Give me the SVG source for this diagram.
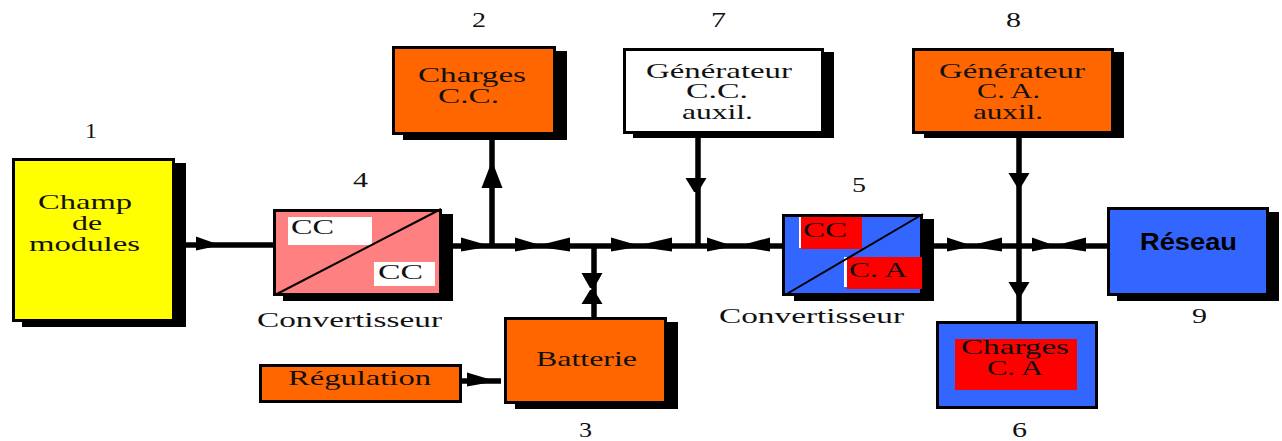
<svg xmlns="http://www.w3.org/2000/svg" width="1282" height="441" viewBox="0 0 1282 441">
<style>
text{font-family:"Liberation Serif","Times New Roman",serif;font-size:22px;fill:#111}
.n{font-size:21px}
.b{font-family:"Liberation Sans",Arial,sans-serif;font-weight:700;font-size:23px;fill:#000}
.box{stroke:#000;stroke-width:3}
.sh{fill:#000}
.or{fill:#ff6600}.bl{fill:#3366ff}.ye{fill:#ffff00}.pk{fill:#ff8080}.wh{fill:#fff}.re{fill:#ff0000}
.bus{stroke:#000;stroke-width:5.500;fill:none}
.dg{stroke:#000;stroke-width:2;fill:none}
.hd{fill:#000}
</style>
<defs>
<polygon id="ah" class="hd" points="0,-8.500 1,-1 1,1 0,5.500"/>
<polygon id="av" class="hd" points="-10.500,0 -2,1 2,1 10.500,0"/>
</defs>
<rect width="1282" height="441" fill="#fff"/>
<g id="connectors">
<path class="bus" d="M174 245H273M453 246H782M492 246V134M698 246V133M594 246V318M934 246H1107M1019 133V321M462 381H501"/>
<use href="#ah" transform="translate(196,245) scale(21,1)"/>
<use href="#ah" transform="translate(461,246) scale(26,1)"/>
<use href="#ah" transform="translate(515,246) scale(25,1)"/>
<use href="#ah" transform="translate(570,246) scale(-30,1)"/>
<use href="#ah" transform="translate(611,246) scale(26,1)"/>
<use href="#ah" transform="translate(672,246) scale(-32,1)"/>
<use href="#ah" transform="translate(707,246) scale(23,1)"/>
<use href="#ah" transform="translate(770,246) scale(-28,1)"/>
<use href="#ah" transform="translate(947,246) scale(23,1)"/>
<use href="#ah" transform="translate(1002,246) scale(-29,1)"/>
<use href="#ah" transform="translate(1032,246) scale(21,1)"/>
<use href="#ah" transform="translate(1086,246) scale(-29,1)"/>
<use href="#ah" transform="translate(467,381) scale(25,1)"/>
<use href="#av" transform="translate(492,188) scale(1,-22)"/>
<use href="#av" transform="translate(696,178) scale(1,14)"/>
<use href="#av" transform="translate(592,273) scale(1,15)"/>
<use href="#av" transform="translate(592,304) scale(1,-14)"/>
<use href="#av" transform="translate(1019,173) scale(1,14)"/>
<use href="#av" transform="translate(1019,282) scale(1,14)"/>
</g>
<g id="n1">
<rect class="sh" x="22" y="163" width="164" height="164"/>
<rect class="box ye" x="13.500" y="159.500" width="160" height="161"/>
<text x="38" y="209" textLength="94" lengthAdjust="spacingAndGlyphs">Champ</text>
<text x="72" y="230" textLength="30" lengthAdjust="spacingAndGlyphs">de</text>
<text x="29" y="251" textLength="111" lengthAdjust="spacingAndGlyphs">modules</text>
<text class="n" x="85" y="138" textLength="12" lengthAdjust="spacingAndGlyphs">1</text>
</g>
<g id="n4">
<rect class="sh" x="283" y="214" width="170" height="87"/>
<rect class="box pk" x="274.500" y="210.500" width="166" height="84"/>
<rect class="wh" x="288" y="217" width="84" height="28"/>
<rect class="wh" x="374" y="262" width="61" height="24"/>
<path class="dg" d="M275 295L441 209"/>
<text x="291" y="234" textLength="43" lengthAdjust="spacingAndGlyphs">CC</text>
<text x="378" y="279" textLength="45" lengthAdjust="spacingAndGlyphs">CC</text>
<text x="257" y="327" textLength="185" lengthAdjust="spacingAndGlyphs">Convertisseur</text>
<text class="n" x="353" y="187" textLength="15" lengthAdjust="spacingAndGlyphs">4</text>
</g>
<g id="n2">
<rect class="sh" x="403" y="51" width="164" height="89"/>
<rect class="box or" x="393.500" y="47.500" width="161" height="86"/>
<text x="418" y="82" textLength="108" lengthAdjust="spacingAndGlyphs">Charges</text>
<text x="438" y="103" textLength="61" lengthAdjust="spacingAndGlyphs">C.C.</text>
<text class="n" x="472" y="27" textLength="14" lengthAdjust="spacingAndGlyphs">2</text>
</g>
<g id="n7">
<rect class="sh" x="633" y="52" width="201" height="86"/>
<rect class="box wh" x="624.500" y="49.500" width="198" height="83"/>
<text x="646" y="78" textLength="146" lengthAdjust="spacingAndGlyphs">Générateur</text>
<text x="686" y="98" textLength="62" lengthAdjust="spacingAndGlyphs">C.C.</text>
<text x="682" y="119" textLength="71" lengthAdjust="spacingAndGlyphs">auxil.</text>
<text class="n" x="711" y="27" textLength="15" lengthAdjust="spacingAndGlyphs">7</text>
</g>
<g id="n8">
<rect class="sh" x="924" y="52" width="200" height="86"/>
<rect class="box or" x="913.500" y="49.500" width="199" height="83"/>
<text x="939" y="78" textLength="146" lengthAdjust="spacingAndGlyphs">Générateur</text>
<text x="977" y="98" textLength="63" lengthAdjust="spacingAndGlyphs">C. A.</text>
<text x="973" y="119" textLength="70" lengthAdjust="spacingAndGlyphs">auxil.</text>
<text class="n" x="1006" y="27" textLength="15" lengthAdjust="spacingAndGlyphs">8</text>
</g>
<g id="n5">
<rect class="sh" x="794" y="219" width="140" height="82"/>
<rect class="box bl" x="783.500" y="215.500" width="138" height="79"/>
<rect class="wh" x="799" y="217" width="2" height="31"/>
<rect class="re" x="801" y="217" width="61" height="32"/>
<rect class="wh" x="844" y="257" width="3" height="30"/>
<rect class="re" x="847" y="257" width="75" height="32"/>
<path class="dg" d="M785 295L923 214"/>
<text x="803" y="237" textLength="44" lengthAdjust="spacingAndGlyphs">CC</text>
<text x="849" y="277" textLength="58" lengthAdjust="spacingAndGlyphs">C. A</text>
<text x="719" y="323" textLength="185" lengthAdjust="spacingAndGlyphs">Convertisseur</text>
<text class="n" x="852" y="192" textLength="14" lengthAdjust="spacingAndGlyphs">5</text>
</g>
<g id="n9">
<rect class="sh" x="1117" y="212" width="162" height="89"/>
<rect class="box bl" x="1108.500" y="208.500" width="159" height="86"/>
<text class="b" x="1140" y="250" textLength="97" lengthAdjust="spacingAndGlyphs">Réseau</text>
<text class="n" x="1192" y="323" textLength="15" lengthAdjust="spacingAndGlyphs">9</text>
</g>
<g id="n6">
<rect class="box bl" x="937.500" y="322.500" width="159" height="85"/>
<rect class="re" x="955" y="339" width="122" height="51"/>
<text x="961" y="354" textLength="108" lengthAdjust="spacingAndGlyphs">Charges</text>
<text x="987" y="375" textLength="56" lengthAdjust="spacingAndGlyphs">C. A</text>
<text class="n" x="1012" y="437" textLength="15" lengthAdjust="spacingAndGlyphs">6</text>
</g>
<g id="n3">
<rect class="sh" x="515" y="322" width="163" height="87"/>
<rect class="box or" x="505.500" y="318.500" width="160" height="84"/>
<text x="536" y="366" textLength="101" lengthAdjust="spacingAndGlyphs">Batterie</text>
<text class="n" x="579" y="437" textLength="13" lengthAdjust="spacingAndGlyphs">3</text>
</g>
<g id="n10">
<rect class="box or" x="260.500" y="365.500" width="200" height="36"/>
<text x="288" y="385" textLength="143" lengthAdjust="spacingAndGlyphs">Régulation</text>
</g>
</svg>
